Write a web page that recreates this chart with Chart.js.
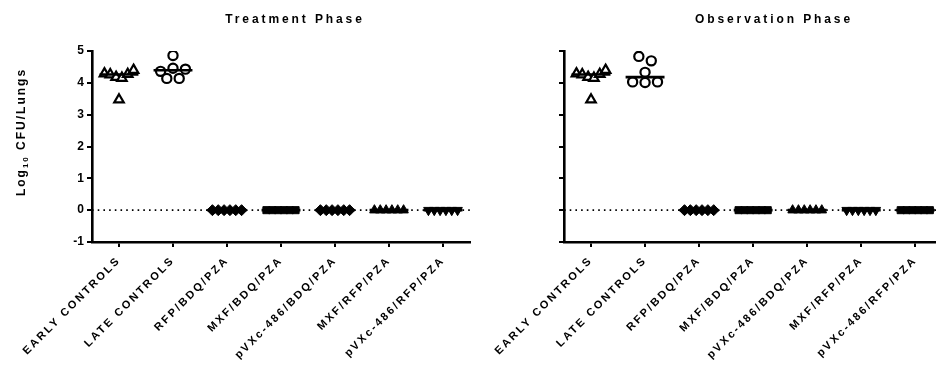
<!DOCTYPE html>
<html>
<head>
<meta charset="utf-8">
<script src="https://cdn.jsdelivr.net/npm/chart.js@4.4.1/dist/chart.umd.min.js"></script>
<style>
  html, body { margin: 0; padding: 0; background: #fff; overflow: hidden; width: 936px; height: 366px; }
  #wrap { position: relative; width: 936px; height: 366px; overflow: hidden; }
  canvas { position: absolute; top: 0; }
  #treat { left: 0; }
  #obs { left: 480px; }
</style>
</head>
<body>
<div id="wrap">
  <canvas id="treat" width="480" height="366"></canvas>
  <canvas id="obs" width="470" height="366"></canvas>
</div>
<script>
// Treatment groups along the x axis
const groups = ['EARLY CONTROLS', 'LATE CONTROLS', 'RFP/BDQ/PZA', 'MXF/BDQ/PZA',
                'pVXc-486/BDQ/PZA', 'MXF/RFP/PZA', 'pVXc-486/RFP/PZA'];
const yTicks = [-1, 0, 1, 2, 3, 4, 5];
const detectionLimit = [0, 0];

// Log10 CFU per mouse lungs, treatment phase
const treatEarly     = [4.29, 4.26, 4.18, 4.15, 4.27, 4.40, 3.47];
const treatLate      = [4.86, 4.36, 4.46, 4.43, 4.14, 4.14];
const treatRfpBdq    = [0, 0, 0, 0, 0, 0];
const treatMxfBdq    = [0, 0, 0, 0, 0, 0];
const treatPvxBdq    = [0, 0, 0, 0, 0, 0];
const treatMxfRfp    = [0, 0, 0, 0, 0, 0];
const treatPvxRfp    = [0, 0, 0, 0, 0, 0];

// Log10 CFU per mouse lungs, observation phase
const obsEarly       = [4.29, 4.26, 4.18, 4.15, 4.27, 4.40, 3.47];
const obsLate        = [4.83, 4.69, 4.33, 4.03, 4.01, 4.03];
const obsRfpBdq      = [0, 0, 0, 0, 0, 0];
const obsMxfBdq      = [0, 0, 0, 0, 0, 0];
const obsPvxBdq      = [0, 0, 0, 0, 0, 0];
const obsMxfRfp      = [0, 0, 0, 0, 0, 0];
const obsPvxRfp      = [0, 0, 0, 0, 0, 0];

const FONT = '"Liberation Sans", Arial, Helvetica, sans-serif';
Chart.defaults.font.family = FONT;
Chart.defaults.color = '#000';

const openTri  = { style: 'triangle', r: 5.5, bw: 2.2, fill: false };
const openCirc = { style: 'circle',   r: 4.6, bw: 2.2, fill: false };
const diamond  = { style: 'rectRot',  r: 5.5, bw: 1,   fill: true };
const square   = { style: 'rect',     r: 5,   bw: 1,   fill: true };
const triUp    = { style: 'triangle', r: 5.5, bw: 1,   fill: true };
const triDown  = { style: 'triangle', r: 5.5, bw: 1,   fill: true, rot: 180 };

function median(vals) {
  const s = [...vals].sort((a, b) => a - b);
  const n = s.length;
  return n % 2 ? s[(n - 1) / 2] : (s[n / 2 - 1] + s[n / 2]) / 2;
}

// Spread points that share a similar value side by side (scatter-dot layout)
function swarmOffsets(values) {
  const order = values.map((v, i) => i).sort((a, b) => values[b] - values[a]);
  const rows = [];
  order.forEach(i => {
    const row = rows[rows.length - 1];
    if (row && values[row[0]] - values[i] < 0.27) row.push(i); else rows.push([i]);
  });
  const off = new Array(values.length).fill(0);
  rows.forEach(row => {
    row.sort((a, b) => a - b);
    const n = row.length;
    const step = n > 1 ? Math.min(0.23, 0.54 / (n - 1)) : 0;
    row.forEach((idx, k) => { off[idx] = (k - (n - 1) / 2) * step; });
  });
  return off;
}

function buildDatasets(series, markers, limit) {
  const ds = [];
  series.forEach((vals, g) => {
    const m = median(vals);
    ds.push({
      type: 'line', data: [{ x: g - 0.36, y: m }, { x: g + 0.36, y: m }],
      borderColor: '#000', borderWidth: 2.6, pointRadius: 0, borderCapStyle: 'butt'
    });
  });
  series.forEach((vals, g) => {
    const off = swarmOffsets(vals);
    const mk = markers[g];
    ds.push({
      type: 'scatter',
      data: vals.map((v, i) => ({ x: g + off[i], y: v })),
      pointStyle: mk.style, pointRotation: mk.rot || 0,
      pointRadius: mk.r, pointHoverRadius: mk.r, borderWidth: mk.bw,
      borderColor: '#000', backgroundColor: mk.fill ? '#000' : '#fff'
    });
  });
  ds.push({
    type: 'line', data: [{ x: -0.5, y: limit }, { x: groups.length - 0.5, y: limit }],
    borderColor: '#000', borderWidth: 1.6, borderDash: [1.6, 4.1], pointRadius: 0
  });
  return ds;
}

// Panel title, y-axis title with subscript, and letter-spaced category labels
const textPlugin = {
  id: 'panelText',
  afterUpdate(chart) {
    const xs = chart.scales.x;
    if (xs && !xs._spaced) {
      const base = xs.drawLabels;
      xs.drawLabels = function (area) {
        const c = this.ctx;
        c.save();
        c.letterSpacing = '2.3px';
        base.call(this, area);
        c.restore();
      };
      xs._spaced = true;
    }
  },
  afterDraw(chart, args, opts) {
    const ctx = chart.ctx;
    ctx.save();
    ctx.fillStyle = '#000';
    ctx.font = 'bold 12px ' + FONT;
    ctx.letterSpacing = '2.9px';
    ctx.textAlign = 'center';
    ctx.textBaseline = 'middle';
    ctx.fillText(opts.title, opts.titleX, 20);
    if (opts.yTitle) {
      ctx.translate(opts.yTitleX, opts.yTitleY);
      ctx.rotate(-Math.PI / 2);
      ctx.letterSpacing = '2px';
      ctx.textAlign = 'left';
      ctx.textBaseline = 'alphabetic';
      const big = 'bold 12px ' + FONT, small = 'bold 8px ' + FONT;
      ctx.font = big;  const w1 = ctx.measureText('Log').width;
      const w3 = ctx.measureText(' CFU/Lungs').width;
      ctx.font = small; const w2 = ctx.measureText('10').width;
      let x = -(w1 + w2 + w3) / 2;
      ctx.font = big;   ctx.fillText('Log', x, 4); x += w1;
      ctx.font = small; ctx.fillText('10', x, 7); x += w2;
      ctx.font = big;   ctx.fillText(' CFU/Lungs', x, 4);
    }
    ctx.restore();
  }
};

function makeChart(id, series, markers, limit, cfg) {
  return new Chart(document.getElementById(id), {
    type: 'scatter',
    data: { datasets: buildDatasets(series, markers, limit) },
    plugins: [textPlugin],
    options: {
      responsive: false, animation: false, devicePixelRatio: 1, events: [],
      layout: { padding: { top: 51, left: 0, right: cfg.padRight, bottom: 0 } },
      plugins: {
        legend: { display: false }, tooltip: { enabled: false },
        panelText: cfg.text
      },
      scales: {
        x: {
          type: 'linear', min: -0.5, max: groups.length - 0.5,
          afterBuildTicks: s => { s.ticks = groups.map((_, i) => ({ value: i })); },
          afterFit: s => { s.height = 124; },
          ticks: {
            autoSkip: false, minRotation: 45, maxRotation: 45, padding: 7,
            color: '#000', font: { size: 11, weight: 'bold' },
            callback: v => groups[Math.round(v)]
          },
          grid: { display: true, drawOnChartArea: false, drawTicks: true, tickLength: 5, lineWidth: 2, color: '#000' },
          border: { display: true, width: 2.6, color: '#000' }
        },
        y: {
          type: 'linear', min: yTicks[0], max: yTicks[yTicks.length - 1],
          afterBuildTicks: s => { s.ticks = yTicks.map(v => ({ value: v })); },
          afterFit: s => { s.width = cfg.yWidth; },
          ticks: {
            padding: 3, color: '#000', font: { size: 12, weight: 'bold' },
            callback: v => cfg.yLabels ? String(v) : ''
          },
          grid: { display: true, drawOnChartArea: false, drawTicks: true, tickLength: 5, lineWidth: 2, color: '#000' },
          border: { display: true, width: 2.6, color: '#000' }
        }
      }
    }
  });
}

makeChart('treat',
  [treatEarly, treatLate, treatRfpBdq, treatMxfBdq, treatPvxBdq, treatMxfRfp, treatPvxRfp],
  [openTri, openCirc, diamond, square, diamond, triUp, triDown],
  detectionLimit[0],
  { padRight: 10, yWidth: 92, yLabels: true,
    text: { title: 'Treatment Phase', titleX: 295, yTitle: true, yTitleX: 21, yTitleY: 132 } });

makeChart('obs',
  [obsEarly, obsLate, obsRfpBdq, obsMxfBdq, obsPvxBdq, obsMxfRfp, obsPvxRfp],
  [openTri, openCirc, diamond, square, triUp, triDown, square],
  detectionLimit[1],
  { padRight: 7, yWidth: 84, yLabels: false,
    text: { title: 'Observation Phase', titleX: 294, yTitle: false } });
</script>
</body>
</html>
